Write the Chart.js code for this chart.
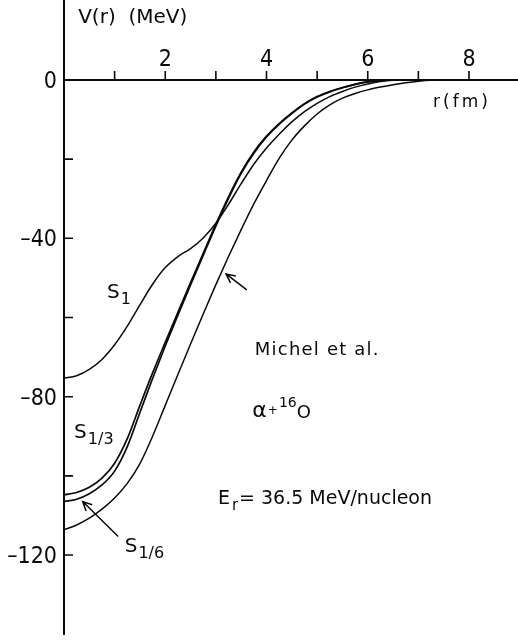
<!DOCTYPE html>
<html>
<head>
<meta charset="utf-8">
<title>V(r) alpha + 16O</title>
<script src="https://cdn.jsdelivr.net/npm/chart.js@4.4.0/dist/chart.umd.min.js"></script>
<style>
  html, body { margin: 0; padding: 0; background: #fff; }
  canvas { display: block; }
</style>
</head>
<body>
<canvas id="potential" width="518" height="640"></canvas>
<script>
// r in fm, V in MeV
const s1R = [0, 0.25, 0.5, 0.75, 1.0, 1.25, 1.5, 1.75, 2.0, 2.25, 2.5, 2.75, 3.0, 3.25, 3.5, 3.75, 4.0, 4.25, 4.5, 4.75, 5.0, 5.25, 5.5, 5.75, 6.0, 6.25, 6.5, 6.75, 8.97];
const s1V = [-75.3, -74.7, -73.1, -70.6, -66.9, -62.2, -56.8, -51.6, -47.4, -44.6, -42.6, -39.9, -36.2, -31.4, -26.2, -21.3, -17.2, -13.7, -10.6, -8.0, -5.9, -4.2, -2.9, -1.8, -1.0, -0.4, -0.1, 0, 0];

const s13R = [0, 0.25, 0.5, 0.75, 1.0, 1.25, 1.5, 1.75, 2.0, 2.25, 2.5, 2.75, 3.0, 3.25, 3.5, 3.75, 4.0, 4.25, 4.5, 4.75, 5.0, 5.25, 5.5, 5.75, 6.0, 6.25, 6.5, 8.97];
const s13V = [-104.8, -104.2, -102.9, -100.6, -96.8, -90.6, -82.2, -74.0, -66.3, -58.7, -51.2, -43.8, -36.4, -29.5, -23.3, -18.2, -14.2, -11.0, -8.3, -6.0, -4.2, -2.9, -1.9, -1.1, -0.5, -0.15, 0, 0];

const s16R = [0, 0.25, 0.5, 0.75, 1.0, 1.25, 1.5, 1.75, 2.0, 2.25, 2.5, 2.75, 3.0, 3.25, 3.5, 3.75, 4.0, 4.25, 4.5, 4.75, 5.0, 5.25, 5.5, 5.75, 6.0, 6.25, 6.5, 8.97];
const s16V = [-106.5, -105.9, -104.5, -102.3, -98.8, -92.6, -84.0, -75.4, -67.2, -59.4, -51.8, -44.3, -36.9, -29.9, -23.6, -18.5, -14.4, -11.2, -8.5, -6.1, -4.3, -3.0, -2.0, -1.1, -0.5, -0.15, 0, 0];

const michelR = [0, 0.25, 0.5, 0.75, 1.0, 1.25, 1.5, 1.75, 2.0, 2.25, 2.5, 2.75, 3.0, 3.25, 3.5, 3.75, 4.0, 4.25, 4.5, 4.75, 5.0, 5.25, 5.5, 5.75, 6.0, 6.25, 6.5, 6.75, 7.0, 7.25, 7.5, 8.97];
const michelV = [-113.6, -112.4, -110.7, -108.4, -105.6, -101.9, -96.9, -90.0, -82.2, -74.4, -66.7, -59.1, -51.7, -44.6, -37.8, -31.3, -25.4, -19.8, -15.2, -11.6, -8.6, -6.3, -4.6, -3.4, -2.5, -1.8, -1.2, -0.7, -0.3, -0.05, 0, 0];

const xTicks = [1, 2, 3, 4, 5, 6, 7, 8];
const xTickLabels = [2, 4, 6, 8];
const yTicks = [-20, -40, -60, -80, -100, -120];
const yTickLabels = [0, -40, -80, -120];

const INK = '#0a0a0a';
const TEXT_FONT = '"DejaVu Sans", sans-serif';
const NUM_FONT = '"Liberation Sans Narrow", "DejaVu Sans Condensed", "DejaVu Sans", sans-serif';

function points(rs, vs) {
  return rs.map((r, i) => ({ x: r, y: vs[i] }));
}

function curve(label, rs, vs, width) {
  return {
    label: label,
    data: points(rs, vs),
    borderColor: INK,
    borderWidth: width,
    pointRadius: 0,
    fill: false,
    cubicInterpolationMode: 'monotone'
  };
}

function text(ctx, str, px, py, size, opts = {}) {
  ctx.font = (opts.weight || 'normal') + ' ' + size + 'px ' + (opts.family || TEXT_FONT);
  ctx.textAlign = opts.align || 'left';
  ctx.textBaseline = opts.baseline || 'alphabetic';
  ctx.letterSpacing = (opts.spacing || 0) + 'px';
  ctx.fillText(str, px, py);
  const w = ctx.measureText(str).width;
  ctx.letterSpacing = '0px';
  return w;
}

// open arrow from (fx,fy) to tip (tx,ty)
function arrow(ctx, fx, fy, tx, ty) {
  const a = Math.atan2(ty - fy, tx - fx);
  const head = 10;
  ctx.beginPath();
  ctx.moveTo(fx, fy);
  ctx.lineTo(tx, ty);
  ctx.moveTo(tx - head * Math.cos(a - 0.45), ty - head * Math.sin(a - 0.45));
  ctx.lineTo(tx, ty);
  ctx.lineTo(tx - head * Math.cos(a + 0.45), ty - head * Math.sin(a + 0.45));
  ctx.stroke();
}

// a label "S" followed by a lowered subscript
function sLabel(ctx, px, py, sub) {
  const w = text(ctx, 'S', px, py, 20);
  text(ctx, sub, px + w + 1, py + 6, 16);
}

const axesPlugin = {
  id: 'crossAxes',
  afterDatasetsDraw(chart) {
    const { ctx, chartArea, scales: { x, y } } = chart;
    const X = v => x.getPixelForValue(v);
    const Y = v => y.getPixelForValue(v);
    const x0 = X(0), y0 = Y(0);

    ctx.save();
    ctx.strokeStyle = INK;
    ctx.fillStyle = INK;
    ctx.lineCap = 'butt';

    // axes crossing at the origin
    ctx.lineWidth = 2;
    ctx.beginPath();
    ctx.moveTo(x0, chartArea.top);
    ctx.lineTo(x0, chartArea.bottom);
    ctx.moveTo(x0, y0);
    ctx.lineTo(chartArea.right, y0);
    ctx.stroke();

    // inward tick marks
    ctx.lineWidth = 1.6;
    ctx.beginPath();
    xTicks.forEach(v => { ctx.moveTo(X(v), y0); ctx.lineTo(X(v), y0 - 9); });
    yTicks.forEach(v => { ctx.moveTo(x0, Y(v)); ctx.lineTo(x0 + 9, Y(v)); });
    ctx.stroke();

    xTickLabels.forEach(v => {
      text(ctx, String(v), X(v), y0 - 14, 23, { family: NUM_FONT, align: 'center' });
    });
    yTickLabels.forEach(v => {
      const s = v < 0 ? '\u2013' + Math.abs(v) : String(v);
      text(ctx, s, x0 - 7, Y(v) + 8, 23, { family: NUM_FONT, align: 'right' });
    });

    // axis titles
    text(ctx, 'V(r)  (MeV)', X(0.28), Y(14.4), 20);
    text(ctx, 'r(fm)', X(7.29), Y(-6.8), 17, { spacing: 3 });

    // curve labels
    sLabel(ctx, X(0.85), Y(-55), '1');
    sLabel(ctx, X(0.2), Y(-90.4), '1/3');
    sLabel(ctx, X(1.2), Y(-119.2), '1/6');
    text(ctx, 'Michel et al.', X(3.77), Y(-69.4), 18, { spacing: 1.2 });

    ctx.lineWidth = 1.5;
    arrow(ctx, X(3.61), Y(-53.0), X(3.20), Y(-49.0));
    arrow(ctx, X(1.07), Y(-115.3), X(0.37), Y(-106.5));

    // reaction and energy
    let px = X(3.72), py = Y(-85.1);
    px += text(ctx, '\u03b1', px, py, 22);
    px += text(ctx, '+', px + 1, py - 3, 12) + 2;
    px += text(ctx, '16', px, py - 10, 14);
    text(ctx, 'O', px, py + 1, 18);

    px = X(3.04); py = Y(-107.1);
    px += text(ctx, 'E', px, py, 19);
    px += text(ctx, 'r', px + 2, py + 6, 15) + 3;
    text(ctx, '= 36.5 MeV/nucleon', px, py, 19);

    ctx.restore();
  }
};

new Chart(document.getElementById('potential'), {
  type: 'line',
  data: {
    datasets: [
      curve('S1', s1R, s1V, 1.5),
      curve('S1/3', s13R, s13V, 1.7),
      curve('S1/6', s16R, s16V, 1.7),
      curve('Michel et al.', michelR, michelV, 1.5)
    ]
  },
  options: {
    responsive: false,
    animation: false,
    layout: { padding: { left: 64, right: 0, top: 0, bottom: 5 } },
    plugins: { legend: { display: false }, tooltip: { enabled: false } },
    scales: {
      x: { type: 'linear', min: 0, max: 8.968, display: false },
      y: { type: 'linear', min: -140.2, max: 20.2, display: false }
    }
  },
  plugins: [axesPlugin]
});
</script>
</body>
</html>
